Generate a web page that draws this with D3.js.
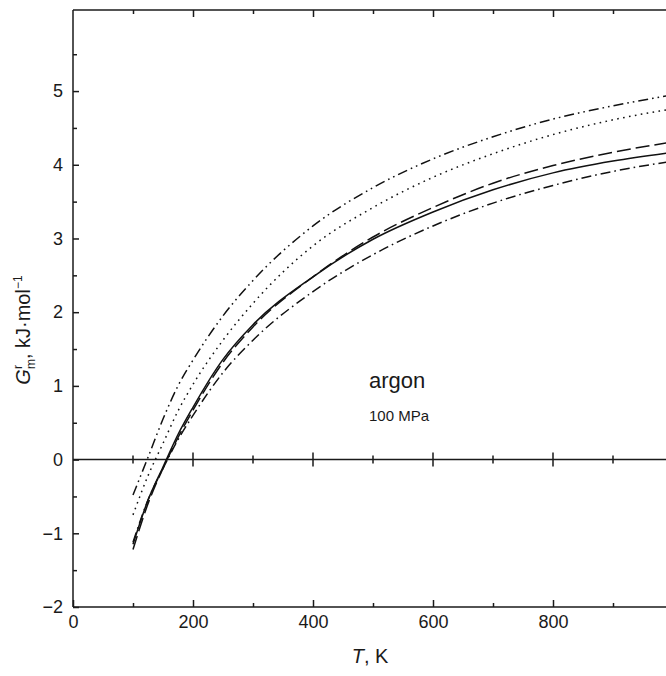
<!DOCTYPE html>
<html>
<head>
<meta charset="utf-8">
<script src="https://cdn.jsdelivr.net/npm/d3@7"></script>
<style>
body { margin: 0; background: #fff; }
svg { display: block; font-family: "Liberation Sans", Arial, sans-serif; }
</style>
</head>
<body>
<div id="chart"></div>
<script>
// temperatures, K
var temps = [100, 125, 150, 175, 200, 250, 300, 400, 500, 600, 700, 800, 900, 1000];
// residual Gibbs energy, kJ/mol, one array per curve
var solidVals   = [-1.15, -0.55, -0.10, 0.34, 0.71, 1.36, 1.83, 2.48, 2.99, 3.36, 3.66, 3.89, 4.05, 4.17];
var dashedVals  = [-1.22, -0.60, -0.12, 0.30, 0.67, 1.32, 1.80, 2.48, 3.02, 3.42, 3.75, 3.99, 4.17, 4.31];
var dashDotVals = [-1.12, -0.55, -0.12, 0.27, 0.60, 1.18, 1.62, 2.28, 2.78, 3.17, 3.48, 3.72, 3.91, 4.05];
var dottedVals  = [-0.75, -0.22, 0.22, 0.66, 1.02, 1.62, 2.12, 2.90, 3.42, 3.83, 4.15, 4.41, 4.61, 4.76];
var dashDotDotVals = [-0.48, 0.03, 0.55, 1.00, 1.35, 1.95, 2.43, 3.17, 3.69, 4.08, 4.38, 4.62, 4.80, 4.95];

var xMajor = [0, 200, 400, 600, 800];
var xMinor = [100, 300, 500, 700, 900];
var yMajor = [-2, -1, 0, 1, 2, 3, 4, 5];
var yMinor = [-1.5, -0.5, 0.5, 1.5, 2.5, 3.5, 4.5, 5.5];

var width = 666, height = 676;
var svg = d3.select("#chart").append("svg")
    .attr("width", width)
    .attr("height", height);

var x = d3.scaleLinear().domain([0, 1000]).range([73, 673]);
var y = d3.scaleLinear().domain([-2, 6.1]).range([607, 10]);

var series = [
    {vals: solidVals, dash: null},
    {vals: dashedVals, dash: "14,5"},
    {vals: dashDotVals, dash: "10,4,1.6,4"},
    {vals: dottedVals, dash: "1.6,4.4"},
    {vals: dashDotDotVals, dash: "10,4,1.6,4,1.6,4"}
];

// bottom axis, ticks pointing inward
svg.append("g")
    .attr("transform", `translate(0,${y(-2)})`)
    .call(d3.axisBottom(x).tickValues(xMajor).tickSize(-7).tickPadding(8).tickFormat(d3.format("d")))
    .call(g => g.select(".domain").attr("d", `M${x(0)},0H${width}`));
svg.append("g")
    .attr("transform", `translate(0,${y(-2)})`)
    .call(d3.axisBottom(x).tickValues(xMinor).tickSize(-4).tickFormat(""))
    .call(g => g.select(".domain").remove());

// top border with ticks
svg.append("g")
    .attr("transform", `translate(0,${y(6.1)})`)
    .call(d3.axisTop(x).tickValues(xMajor.slice(1)).tickSize(-7).tickFormat(""))
    .call(g => g.select(".domain").attr("d", `M${x(0)},0H${width}`));
svg.append("g")
    .attr("transform", `translate(0,${y(6.1)})`)
    .call(d3.axisTop(x).tickValues(xMinor).tickSize(-4).tickFormat(""))
    .call(g => g.select(".domain").remove());

// left axis
svg.append("g")
    .attr("transform", `translate(${x(0)},0)`)
    .call(d3.axisLeft(y).tickValues(yMajor).tickSize(-6).tickPadding(10)
        .tickFormat(d => d < 0 ? "\u2212" + Math.abs(d) : d))
    .call(g => g.select(".domain").attr("d", `M0,${y(-2)}V${y(6.1)}`));
svg.append("g")
    .attr("transform", `translate(${x(0)},0)`)
    .call(d3.axisLeft(y).tickValues(yMinor).tickSize(-4).tickFormat(""))
    .call(g => g.select(".domain").remove());

svg.selectAll(".tick text").attr("font-size", 18).attr("fill", "#1a1a1a")
    .attr("font-family", "'Liberation Sans', Arial, sans-serif");
svg.selectAll(".domain, .tick line").attr("stroke", "#1a1a1a").attr("stroke-width", 1.5);

// zero line with crossing ticks
var zero = svg.append("g");
zero.append("line")
    .attr("x1", x(0)).attr("x2", width)
    .attr("y1", y(0)).attr("y2", y(0))
    .attr("stroke", "#1a1a1a").attr("stroke-width", 1.5);
zero.selectAll(".zmaj").data(xMajor.slice(1)).enter().append("line")
    .attr("x1", d => x(d)).attr("x2", d => x(d))
    .attr("y1", y(0) - 7).attr("y2", y(0) + 7)
    .attr("stroke", "#1a1a1a").attr("stroke-width", 1.5);
zero.selectAll(".zmin").data(xMinor).enter().append("line")
    .attr("x1", d => x(d)).attr("x2", d => x(d))
    .attr("y1", y(0) - 4).attr("y2", y(0) + 4)
    .attr("stroke", "#1a1a1a").attr("stroke-width", 1.5);

// curves
var line = d3.line()
    .x((d, i) => x(temps[i]))
    .y(d => y(d))
    .curve(d3.curveMonotoneX);

svg.selectAll(".curve").data(series).enter().append("path")
    .attr("class", "curve")
    .attr("d", d => line(d.vals))
    .attr("fill", "none")
    .attr("stroke", "#111")
    .attr("stroke-width", 1.5)
    .attr("stroke-dasharray", d => d.dash);

// annotations
svg.append("text")
    .attr("x", 369).attr("y", 388)
    .attr("font-size", 22)
    .attr("fill", "#1a1a1a")
    .text("argon");
svg.append("text")
    .attr("x", 369).attr("y", 421)
    .attr("font-size", 15)
    .attr("fill", "#1a1a1a")
    .text("100 MPa");

// axis titles
var xt = svg.append("text")
    .attr("x", 370).attr("y", 663)
    .attr("text-anchor", "middle")
    .attr("font-size", 20)
    .attr("fill", "#1a1a1a");
xt.append("tspan").attr("font-style", "italic").text("T");
xt.append("tspan").text(", K");

var yt = svg.append("text")
    .attr("transform", "rotate(-90)")
    .attr("x", -330).attr("y", 30)
    .attr("text-anchor", "middle")
    .attr("font-size", 20)
    .attr("fill", "#1a1a1a");
yt.append("tspan").attr("font-style", "italic").text("G");
yt.append("tspan").attr("font-size", 12).attr("dy", -8).text("r");
yt.append("tspan").attr("font-size", 12).attr("dx", -4).attr("dy", 13).text("m");
yt.append("tspan").attr("dy", -5).text(", kJ\u00b7mol");
yt.append("tspan").attr("font-size", 12).attr("dy", -8).text("\u22121");
</script>
</body>
</html>
